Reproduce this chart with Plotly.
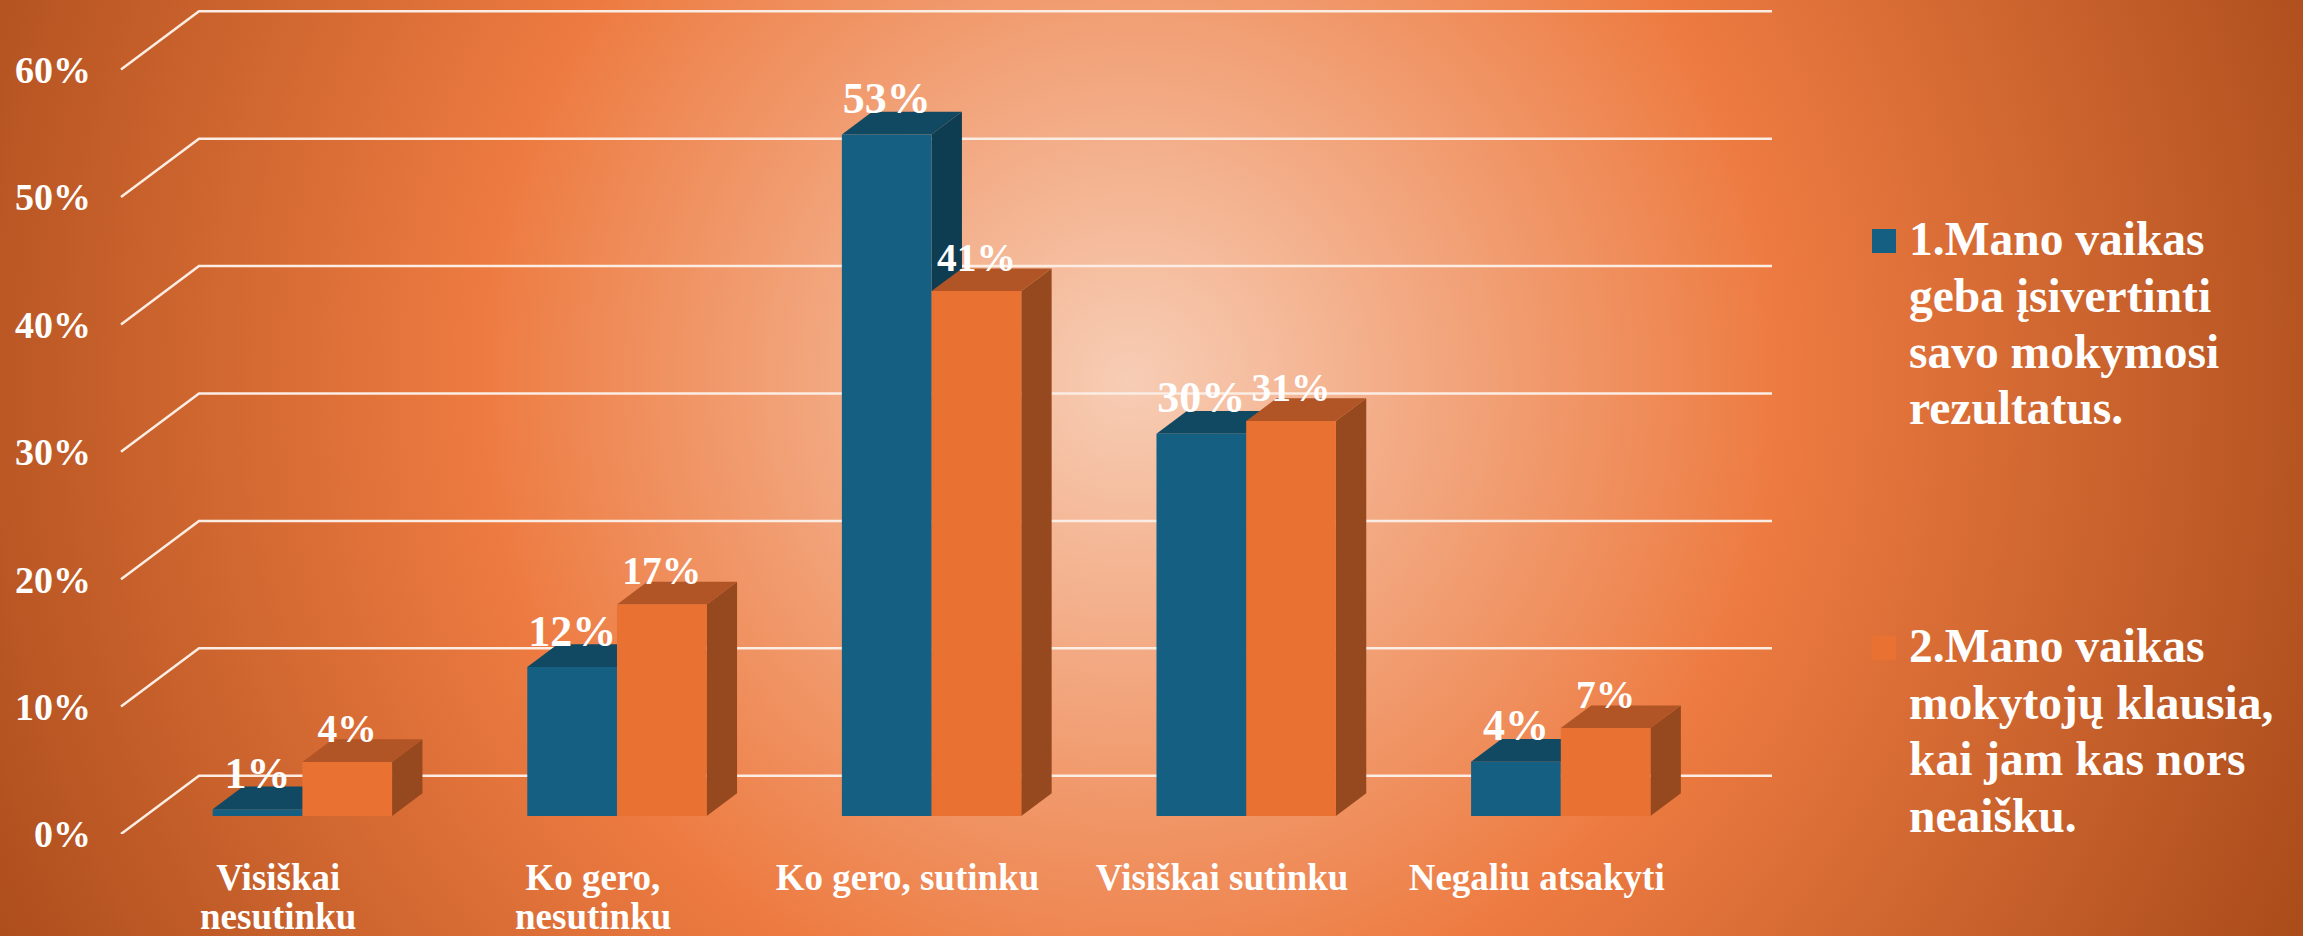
import plotly.graph_objects as go
from urllib.parse import quote

categories = ["Visiškai", "Ko gero,", "Ko gero, sutinku", "Visiškai sutinku", "Negaliu atsakyti"]
categories_line2 = ["nesutinku", "nesutinku", "", "", ""]
legend_lines_1 = ["1.Mano vaikas", "geba įsivertinti", "savo mokymosi", "rezultatus."]
legend_lines_2 = ["2.Mano vaikas", "mokytojų klausia,", "kai jam kas nors", "neaiškku.".replace("kk", "k")]
values_1 = [0.53, 11.7, 53.5, 30.0, 4.26]
values_2 = [4.24, 16.6, 41.2, 31.0, 6.9]
labels_1 = ["1%", "12%", "53%", "30%", "4%"]
labels_2 = ["4%", "17%", "41%", "31%", "7%"]
y_ticks = [0, 10, 20, 30, 40, 50, 60]
y_tick_labels = ["0%", "10%", "20%", "30%", "40%", "50%", "60%"]

W, H = 2303, 936
FONT = "Liberation Serif"
BLUE = dict(front="#156082", top="#114963", side="#0E3D52")
ORANGE = dict(front="#E97132", top="#B15526", side="#96481E")

# axis scale (pixels per unit) and depth of the pseudo-3D floor, in axis units
PX_CAT, PX_PCT = 314.6, 12.74
X0_PX, Y0_PX = 278.3, 834.0
L, R = 92, 1785
DX, DY = 78 / PX_CAT, 58.3 / PX_PCT
D1, D2 = 18 / 58.3, 40.7 / 58.3
BAR_W = 89.7 / PX_CAT

x_range = [(L - X0_PX) / PX_CAT, (R - X0_PX) / PX_CAT]
y_range = [0, Y0_PX / PX_PCT]
idx = list(range(len(categories)))


def paper_x(px):
    return (px - L) / (R - L)


def paper_y(py):
    return (Y0_PX - py) / Y0_PX


def poly(points, color):
    path = "M" + " L".join(f"{x},{y}" for x, y in points) + " Z"
    return dict(type="path", path=path, xref="x", yref="y", layer="below",
                fillcolor=color, line=dict(width=0))


shapes = []
for v in y_ticks:
    pts = [(-0.5, v), (-0.5 + DX, v + DY), (4.5 + DX, v + DY)]
    shapes.append(dict(type="path", path="M" + " L".join(f"{x},{y}" for x, y in pts),
                       xref="x", yref="y", layer="below",
                       line=dict(color="#FBEDE4", width=2.5)))

d = D2 - D1
for vals, pal, left in ((values_1, BLUE, -BAR_W), (values_2, ORANGE, 0.0)):
    for i, v in zip(idx, vals):
        x1 = i + D1 * DX + left
        x2 = x1 + BAR_W
        b = D1 * DY
        t = b + v
        shapes.append(poly([(x2, b), (x2 + d * DX, b + d * DY), (x2 + d * DX, t + d * DY), (x2, t)], pal["side"]))
        shapes.append(poly([(x1, t), (x2, t), (x2 + d * DX, t + d * DY), (x1 + d * DX, t + d * DY)], pal["top"]))

fig = go.Figure()
for vals, pal, left in ((values_1, BLUE, -BAR_W / 2), (values_2, ORANGE, BAR_W / 2)):
    xs = [i + D1 * DX + left for i in idx]
    fig.add_trace(go.Bar(x=xs, y=vals, base=[D1 * DY] * len(vals), width=BAR_W,
                         marker=dict(color=pal["front"], line=dict(width=0)),
                         showlegend=False, hoverinfo="skip"))

for vals, left, labs, size in ((values_1, -BAR_W / 2, labels_1, 44),
                               (values_2, BAR_W / 2, labels_2, 39.5)):
    xs = [i + D1 * DX + left for i in idx]
    fig.add_trace(go.Scatter(x=xs, y=[v + D1 * DY + 0.82 for v in vals], mode="text", text=labs,
                             textposition="top center",
                             textfont=dict(family=FONT, size=size, color="white", weight=700),
                             showlegend=False, hoverinfo="skip", cliponaxis=False))

# legend keys and entries, one text per line
annotations = []
for lines, pal, key_top in ((legend_lines_1, BLUE, 229), (legend_lines_2, ORANGE, 636)):
    shapes.append(dict(type="rect", xref="paper", yref="paper",
                       x0=paper_x(1872), x1=paper_x(1896),
                       y0=paper_y(key_top + 24), y1=paper_y(key_top),
                       fillcolor=pal["front"], line=dict(width=0)))
    for n, line in enumerate(lines):
        annotations.append(dict(text=line, xref="paper", yref="paper", showarrow=False,
                                x=paper_x(1907), y=paper_y(key_top + 12 - 2 + n * 56.5),
                                xanchor="left", yanchor="middle", align="left",
                                font=dict(family=FONT, size=47.5, color="white", weight=700)))

# second lines of the wrapped category labels
for i, line in zip(idx, categories_line2):
    if line:
        annotations.append(dict(text=line, xref="x", yref="paper", showarrow=False,
                                x=i, y=paper_y(916), xanchor="center", yanchor="middle",
                                font=dict(family=FONT, size=37, color="white", weight=700)))

gradient = (
    f'<svg xmlns="http://www.w3.org/2000/svg" width="{W}" height="{H}">'
    f'<defs><radialGradient id="g" gradientUnits="userSpaceOnUse" cx="1130" cy="380" r="1300">'
    '<stop offset="0" stop-color="#F7CDB5"/>'
    '<stop offset="0.5" stop-color="#ED7B41"/>'
    '<stop offset="1" stop-color="#A94B1A"/>'
    f'</radialGradient></defs><rect width="{W}" height="{H}" fill="url(#g)"/></svg>'
)

fig.update_layout(
    width=W, height=H,
    margin=dict(l=L, r=W - R, t=0, b=H - Y0_PX, pad=0, autoexpand=False),
    paper_bgcolor="#D9682F", plot_bgcolor="rgba(0,0,0,0)",
    barmode="overlay",
    showlegend=False,
    shapes=shapes,
    annotations=annotations,
    images=[dict(source="data:image/svg+xml," + quote(gradient), xref="paper", yref="paper",
                 x=-L / (R - L), y=1, xanchor="left", yanchor="top", sizex=W / (R - L), sizey=H / Y0_PX,
                 sizing="stretch", layer="below")],
    xaxis=dict(range=x_range, tickmode="array", tickvals=idx, ticktext=categories, tickangle=0,
               showgrid=False, zeroline=False, showline=False, ticks="", ticklabelstandoff=18,
               tickfont=dict(family=FONT, size=37, color="white", weight=700)),
    yaxis=dict(range=y_range, tickmode="array", tickvals=y_ticks, ticktext=y_tick_labels,
               showgrid=False, zeroline=False, showline=False, ticks="",
               tickfont=dict(family=FONT, size=38, color="white", weight=700)),
)

fig.write_html("out.html", config=dict(displayModeBar=False),
               post_script="document.body.style.margin='0';")
